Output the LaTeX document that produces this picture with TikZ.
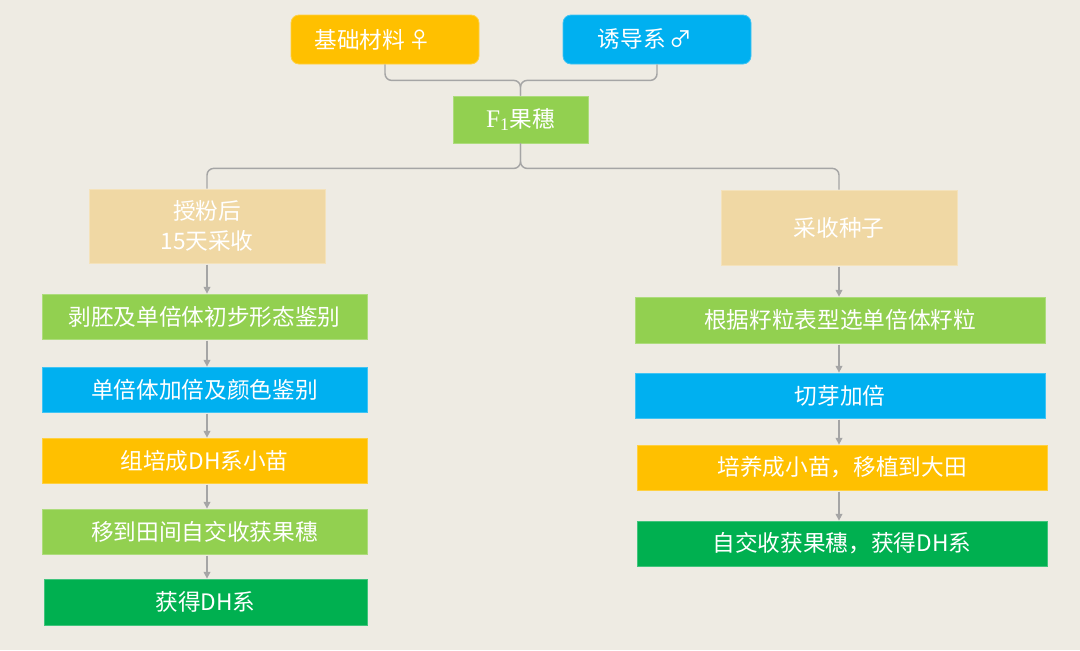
\documentclass[tikz,border=0pt]{standalone}
\usepackage{fontspec}
\setmainfont{Noto Sans CJK SC}
\newfontfamily\serifF{Liberation Serif}
\usetikzlibrary{arrows.meta}
\definecolor{bg}{HTML}{EEEBE3}
\definecolor{corange}{HTML}{FFC000}
\definecolor{cblue}{HTML}{00B0F0}
\definecolor{clgreen}{HTML}{92D050}
\definecolor{cgreen}{HTML}{00B050}
\definecolor{ctan}{HTML}{F0D8A4}
\definecolor{cline}{HTML}{A5A5A5}
\begin{document}
\begin{tikzpicture}[x=0.75pt,y=-0.75pt,
  box/.style={fill=#1, draw=#1!75!white, line width=0.6pt, text=white, inner sep=0pt, align=center,
    font=\fontsize{17}{22.5}\selectfont},
  conn/.style={draw=cline, line width=1.1pt, rounded corners=5pt},
  arr/.style={draw=cline, line width=1pt, -{Triangle[length=5pt,width=5pt]}, shorten <=1pt}]
\fill[bg] (0,0) rectangle (1080,650);
\useasboundingbox (0,0) rectangle (1080,650);

% top row
\node[box=corange, rounded corners=6pt, minimum width=188*0.75pt, minimum height=49*0.75pt] (base) at (385,39.5) {基础材料\hspace{3pt}♀\hspace{18pt}};
\node[box=cblue, rounded corners=6pt, minimum width=188*0.75pt, minimum height=49*0.75pt] (ind) at (657,39.5) {诱导系\hspace{3pt}♂\hspace{18pt}};
\node[box=clgreen, minimum width=135*0.75pt, minimum height=47*0.75pt] (f1) at (520.5,119.5) {{\serifF\fontsize{19}{22}\selectfont F\textsubscript{1}}果穗};

% left column
\node[box=ctan, minimum width=236*0.75pt, minimum height=74*0.75pt] (l0) at (207,226) {授粉后\\15天采收};
\node[box=clgreen, minimum width=325*0.75pt, minimum height=45*0.75pt] (l1) at (204.5,316.5) {剥胚及单倍体初步形态鉴别};
\node[box=cblue, minimum width=325*0.75pt, minimum height=45*0.75pt] (l2) at (204.5,389.5) {单倍体加倍及颜色鉴别};
\node[box=corange, minimum width=325*0.75pt, minimum height=45*0.75pt] (l3) at (204.5,460.5) {组培成DH系小苗};
\node[box=clgreen, minimum width=325*0.75pt, minimum height=45*0.75pt] (l4) at (204.5,531.5) {移到田间自交收获果穗};
\node[box=cgreen, minimum width=323*0.75pt, minimum height=46*0.75pt] (l5) at (205.5,602) {获得DH系};

% right column
\node[box=ctan, minimum width=236*0.75pt, minimum height=75*0.75pt] (r0) at (839,227.5) {采收种子};
\node[box=clgreen, minimum width=410*0.75pt, minimum height=46*0.75pt] (r1) at (840,320) {根据籽粒表型选单倍体籽粒};
\node[box=cblue, minimum width=410*0.75pt, minimum height=45*0.75pt] (r2) at (840,395.5) {切芽加倍};
\node[box=corange, minimum width=410*0.75pt, minimum height=45*0.75pt] (r3) at (842,467.5) {培养成小苗，移植到大田};
\node[box=cgreen, minimum width=410*0.75pt, minimum height=45*0.75pt] (r4) at (842,543.5) {自交收获果穗，获得DH系};

% connectors top
\draw[conn] (base.south) -- ++(0,16) -| (f1.north);
\draw[conn] (ind.south) -- ++(0,16) -| (f1.north);
\draw[conn] (f1.south) -- ++(0,25) -| (l0.north);
\draw[conn] (f1.south) -- ++(0,25) -| (r0.north);

% arrows left
\draw[arr] (l0.south) -- (l0.south |- l1.north);
\draw[arr] (l0.south |- l1.south) -- (l0.south |- l2.north);
\draw[arr] (l0.south |- l2.south) -- (l0.south |- l3.north);
\draw[arr] (l0.south |- l3.south) -- (l0.south |- l4.north);
\draw[arr] (l0.south |- l4.south) -- (l0.south |- l5.north);

% arrows right
\draw[arr] (r0.south) -- (r0.south |- r1.north);
\draw[arr] (r0.south |- r1.south) -- (r0.south |- r2.north);
\draw[arr] (r0.south |- r2.south) -- (r0.south |- r3.north);
\draw[arr] (r0.south |- r3.south) -- (r0.south |- r4.north);
\end{tikzpicture}
\end{document}
